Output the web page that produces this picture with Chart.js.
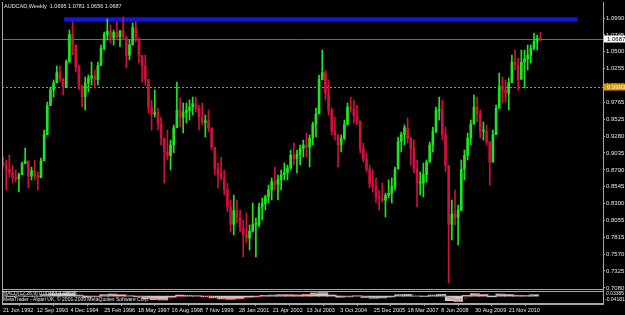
<!DOCTYPE html>
<html>
<head>
<meta charset="utf-8">
<script src="https://cdn.jsdelivr.net/npm/chart.js"></script>
<style>
  html, body { margin: 0; padding: 0; background: #000; }
  #wrap { width: 625px; height: 315px; }
</style>
</head>
<body>
<div id="wrap"><canvas id="mtChart"></canvas></div>
<script>
  // AUDCAD weekly, one candle per 6 weeks starting 21 Jun 1992
  const candleWeeks = 6;
  const firstOpen = 0.890;

  const lows = [0.8831,0.8498,0.8686,0.8599,0.8614,0.8469,0.8744,0.8889,0.8527,0.8643,
    0.8643,0.8498,0.8672,0.9034,0.9440,0.9759,0.9845,1.0063,1.0063,0.9874,
    1.0034,1.0382,1.0454,1.0208,0.9947,0.9701,0.9657,0.9918,1.0019,0.9976,
    1.0019,1.0309,1.0526,1.0671,1.0628,1.0599,1.0671,1.0570,1.0671,1.0266,
    1.0382,1.0599,1.0642,1.0338,1.0063,1.0019,0.9614,0.9367,0.9556,0.9367,
    0.9150,0.8599,0.8933,0.8788,0.9034,0.9512,0.9411,0.9324,0.9469,0.9512,
    0.9585,0.9628,0.9367,0.9440,0.9266,0.9338,0.9077,0.8715,0.8527,0.8643,
    0.8425,0.8179,0.7889,0.7846,0.8020,0.7889,0.7527,0.7730,0.7628,0.7889,
    0.7527,0.7962,0.8063,0.8208,0.8310,0.8353,0.8498,0.8353,0.8498,0.8643,
    0.8643,0.8788,0.8860,0.8744,0.8860,0.8976,0.8976,0.8831,0.9150,0.9266,
    0.9657,1.0092,0.9802,0.9585,0.9295,0.9222,0.8831,0.9049,0.9222,0.9440,
    0.9628,0.9469,0.9440,0.9034,0.8904,0.8759,0.8527,0.8469,0.8310,0.8208,
    0.8324,0.8107,0.8382,0.8310,0.8498,0.8860,0.9049,0.9150,0.9179,0.8860,
    0.8744,0.8252,0.8425,0.8396,0.8614,0.8904,0.9049,0.9324,0.9512,0.9222,
    0.8759,0.7150,0.7773,0.7991,0.7701,0.8469,0.8643,0.8933,0.9150,0.9512,
    0.9483,0.9251,0.9222,0.9150,0.8570,0.8933,0.9440,0.9845,0.9759,0.9773,
    0.9657,1.0135,1.0237,0.9947,1.0237,0.9976,1.0237,1.0338,1.0526,1.0526,
    1.0656];

  const highs = [0.8976,0.8933,0.9005,0.8860,0.8788,0.8744,0.8904,0.9106,0.8860,0.8831,
    0.8933,0.8759,0.8962,0.9367,0.9773,0.9990,1.0092,1.0295,1.0295,1.0121,
    1.0382,1.0816,1.0932,1.0526,1.0309,1.0019,1.0135,1.0164,1.0353,1.0237,
    1.0353,1.0599,1.0787,1.0976,1.0889,1.0816,1.0932,1.0816,1.1005,1.0700,
    1.0671,1.0918,1.0932,1.0671,1.0411,1.0454,1.0019,0.9802,0.9947,0.9686,
    0.9556,0.9222,0.9367,0.9222,0.9440,1.0063,0.9831,0.9759,0.9759,0.9802,
    0.9845,0.9845,0.9730,0.9759,0.9585,0.9657,0.9367,0.9077,0.8889,0.8976,
    0.8788,0.8599,0.8353,0.8425,0.8353,0.8208,0.8063,0.8165,0.7991,0.8310,
    0.8092,0.8310,0.8382,0.8425,0.8570,0.8672,0.8831,0.8715,0.8788,0.8889,
    0.8860,0.9077,0.9179,0.9077,0.9150,0.9222,0.9324,0.9295,0.9483,0.9686,
    1.0164,1.0526,1.0237,1.0092,0.9686,0.9556,0.9266,0.9295,0.9512,0.9759,
    0.9845,0.9802,0.9730,0.9440,0.9179,0.9034,0.8860,0.8788,0.8672,0.8498,
    0.8599,0.8454,0.8643,0.8672,0.8831,0.9266,0.9338,0.9440,0.9541,0.9266,
    0.9222,0.8933,0.8759,0.8889,0.8933,0.9193,0.9411,0.9701,0.9845,0.9802,
    0.9411,0.8860,0.8353,0.8498,0.8281,0.8933,0.9077,0.9324,0.9512,0.9874,
    0.9845,0.9657,0.9483,0.9440,0.9150,0.9367,0.9730,1.0193,1.0135,1.0092,
    1.0121,1.0454,1.0526,1.0411,1.0526,1.0526,1.0599,1.0599,1.0773,1.0744,
    1.0781];

  const closes = [0.885,0.880,0.875,0.868,0.866,0.872,0.888,0.892,0.870,0.878,
    0.870,0.868,0.892,0.930,0.972,0.995,1.005,1.020,1.010,0.998,
    1.035,1.075,1.060,1.028,1.000,0.985,1.005,1.012,1.015,1.010,
    1.030,1.055,1.075,1.080,1.070,1.078,1.072,1.080,1.072,1.045,
    1.060,1.085,1.070,1.045,1.030,1.010,0.970,0.960,0.962,0.945,
    0.925,0.905,0.900,0.915,0.940,0.965,0.955,0.962,0.965,0.970,
    0.975,0.968,0.955,0.948,0.950,0.940,0.912,0.880,0.875,0.868,
    0.850,0.825,0.800,0.820,0.810,0.795,0.785,0.780,0.790,0.800,
    0.800,0.825,0.830,0.840,0.850,0.862,0.858,0.865,0.872,0.875,
    0.882,0.900,0.895,0.902,0.910,0.915,0.912,0.925,0.945,0.960,
    1.010,1.020,0.990,0.965,0.935,0.930,0.915,0.925,0.945,0.970,
    0.968,0.958,0.950,0.910,0.895,0.880,0.858,0.855,0.840,0.838,
    0.835,0.842,0.845,0.855,0.880,0.920,0.930,0.940,0.925,0.910,
    0.880,0.860,0.860,0.872,0.890,0.915,0.935,0.965,0.965,0.930,
    0.885,0.800,0.815,0.810,0.820,0.880,0.900,0.925,0.945,0.970,
    0.960,0.935,0.935,0.920,0.890,0.930,0.968,1.000,0.995,0.990,
    1.005,1.035,1.030,1.010,1.035,1.040,1.045,1.055,1.065,1.0695,
    1.0687];

  // MACD(12,26,9) read every 16 weeks
  const macdWeeks = 16;
  const macdHist = [0.002,-0.003,0.001,-0.002,-0.001,0.008,0.014,0.016,0.018,0.004,
    -0.006,-0.004,0.008,0.012,0.008,0.002,-0.004,-0.014,-0.020,-0.022,
    -0.006,0.006,0.004,0.002,-0.004,-0.010,-0.016,-0.018,-0.014,-0.006,
    -0.004,0.004,0.006,0.008,0.008,0.006,0.010,0.018,0.020,0.006,
    -0.006,-0.004,0.002,-0.008,-0.012,-0.010,-0.004,0.008,0.010,0.000,
    -0.002,0.006,0.010,-0.026,-0.030,0.004,0.014,0.010,-0.004,0.012,
    0.010,0.004,0.004,0.008];
  const macdSignal = [0.001,0.000,-0.001,0.000,-0.001,0.003,0.009,0.013,0.015,0.010,
    0.002,-0.003,0.002,0.008,0.009,0.005,-0.001,-0.008,-0.015,-0.019,
    -0.012,-0.002,0.003,0.003,-0.001,-0.006,-0.012,-0.016,-0.015,-0.010,
    -0.005,0.000,0.004,0.006,0.007,0.007,0.008,0.013,0.017,0.012,
    0.002,-0.003,-0.001,-0.004,-0.009,-0.010,-0.007,0.002,0.007,0.004,
    0.001,0.003,0.007,-0.010,-0.022,-0.008,0.006,0.009,0.003,0.007,
    0.009,0.006,0.004,0.006];

  const dateLabels = ["21 Jun 1992","12 Sep 1993","4 Dec 1994","25 Feb 1996","18 May 1997",
    "16 Aug 1998","7 Nov 1999","28 Jan 2001","21 Apr 2002","13 Jul 2003","3 Oct 2004",
    "25 Dec 2005","18 Mar 2007","8 Jun 2008","30 Aug 2009","21 Nov 2010"];
  const labelWeeks = [0,64,128,192,256,320,384,448,512,576,640,704,768,832,896,960];
  const priceTicks = [1.0990,1.0745,1.0500,1.0255,1.0010,0.9765,0.9525,0.9280,0.9035,
    0.8790,0.8545,0.8300,0.8055,0.7815,0.7570,0.7325,0.7080];

  const levelLine = 0.9993;
  const bidPrice = 1.0687;
  const boxWeeks = [116, 1091];
  const boxPrices = [1.1000, 1.0937];

  const UP = '#1ee61e', DOWN = '#d0103c', FRAME = '#a8a8a8', TXT = '#e6e6e6';
  const SMALL = "'Liberation Sans Narrow', 'Liberation Sans', sans-serif";

  const opens = closes.map((c, i) => (i === 0 ? firstOpen : closes[i - 1]));
  const candleColors = closes.map((c, i) => (c >= opens[i] ? UP : DOWN));

  Chart.defaults.font.family = "'Liberation Sans', 'DejaVu Sans', sans-serif";
  Chart.defaults.font.size = 6;
  Chart.defaults.color = TXT;

  function noPad(scale) {
    scale.paddingTop = 0; scale.paddingBottom = 0;
    scale.paddingLeft = 0; scale.paddingRight = 0;
  }

  const overlay = {
    id: 'overlay',
    beforeDatasetsDraw(chart) {
      const { ctx, chartArea: a, scales: { x, y } } = chart;
      ctx.save();
      // blue rectangle object
      const bx1 = x.getPixelForValue(boxWeeks[0]), bx2 = x.getPixelForValue(boxWeeks[1]);
      const by1 = y.getPixelForValue(boxPrices[0]), by2 = y.getPixelForValue(boxPrices[1]);
      ctx.fillStyle = '#1414e8';
      ctx.fillRect(bx1, by1, bx2 - bx1, by2 - by1);
      // horizontal level (dotted orange)
      const ly = Math.round(y.getPixelForValue(levelLine)) + 0.5;
      ctx.strokeStyle = '#b8862e';
      ctx.lineWidth = 1;
      ctx.setLineDash([2, 2]);
      ctx.beginPath(); ctx.moveTo(a.left, ly); ctx.lineTo(a.right, ly); ctx.stroke();
      // bid line
      const py = Math.round(y.getPixelForValue(bidPrice)) + 0.5;
      ctx.strokeStyle = '#6c6c6c';
      ctx.setLineDash([]);
      ctx.beginPath(); ctx.moveTo(a.left, py); ctx.lineTo(a.right, py); ctx.stroke();
      ctx.restore();
    },
    afterDraw(chart) {
      const { ctx, chartArea: a, scales: { y, y2 } } = chart;
      ctx.save();
      // frame
      ctx.strokeStyle = FRAME;
      ctx.lineWidth = 1;
      ctx.beginPath();
      ctx.moveTo(a.left + 0.5, a.top); ctx.lineTo(a.left + 0.5, a.bottom);
      ctx.moveTo(a.left, Math.round(y.bottom) - 0.5); ctx.lineTo(a.right, Math.round(y.bottom) - 0.5);
      ctx.moveTo(a.left, Math.round(y.bottom) + 1.5); ctx.lineTo(a.right, Math.round(y.bottom) + 1.5);
      ctx.moveTo(a.left, Math.round(a.bottom) - 0.5); ctx.lineTo(a.right, Math.round(a.bottom) - 0.5);
      ctx.stroke();

      ctx.textBaseline = 'middle';
      ctx.fillStyle = TXT;
      ctx.font = "5.5px 'Liberation Sans', sans-serif";
      ctx.fillText('AUDCAD,Weekly  1.0695 1.0781 1.0656 1.0687', 4, 6);
      ctx.font = "5px 'Liberation Sans', sans-serif";
      ctx.fillText('MACD(12,26,9) 0.00363 0.00625', 3, y2.top + 4);
      ctx.fillText('MetaTrader - Alpari UK, \u00a9 2001-2009 MetaQuotes Software Corp.', 3, y2.top + 9.5);
      ctx.font = "5px " + SMALL;
      ctx.fillText('0.03385', a.right + 3, y2.top + 4);
      ctx.fillText('-0.04181', a.right + 2, y2.top + 9.5);

      // price labels on the axis
      ctx.font = "6px 'Liberation Sans', sans-serif";
      const tag = (val, bg, fg) => {
        const ty = Math.round(y.getPixelForValue(val));
        ctx.fillStyle = bg;
        ctx.fillRect(a.right + 1, ty - 3.5, 24, 7);
        ctx.fillStyle = fg;
        ctx.fillText(val.toFixed(4), a.right + 4, ty);
      };
      tag(levelLine, '#d8960e', '#fff6d8');
      tag(bidPrice, '#ffffff', '#000000');
      ctx.restore();
    }
  };

  new Chart(document.getElementById('mtChart'), {
    type: 'bar',
    data: {
      datasets: [
        {
          label: 'wick',
          data: lows.map((lo, i) => ({ x: i * candleWeeks, y: [lo, highs[i]] })),
          backgroundColor: candleColors,
          barThickness: 1,
          grouped: false,
          yAxisID: 'y',
          order: 2
        },
        {
          label: 'body',
          data: opens.map((o, i) => ({ x: i * candleWeeks, y: [o, closes[i]] })),
          backgroundColor: candleColors,
          barThickness: 2,
          minBarLength: 1,
          grouped: false,
          yAxisID: 'y',
          order: 1
        },
        {
          label: 'MACD',
          data: macdHist.map((v, j) => ({ x: j * macdWeeks, y: v })),
          backgroundColor: '#c8c8c8',
          barThickness: 9,
          grouped: false,
          yAxisID: 'y2',
          order: 3
        },
        {
          type: 'line',
          label: 'Signal',
          data: macdSignal.map((v, j) => ({ x: j * macdWeeks, y: v })),
          borderColor: '#ff2424',
          borderWidth: 1,
          borderDash: [1, 1],
          pointRadius: 0,
          tension: 0.3,
          yAxisID: 'y2',
          order: 0
        }
      ]
    },
    options: {
      responsive: true,
      maintainAspectRatio: false,
      animation: false,
      events: [],
      layout: { padding: { left: 2, top: 2, right: 0, bottom: 0 } },
      plugins: { legend: { display: false }, tooltip: { enabled: false } },
      scales: {
        x: {
          type: 'linear',
          offset: false,
          min: -2,
          max: 1139,
          position: 'bottom',
          afterBuildTicks: (scale) => { scale.ticks = labelWeeks.map((v) => ({ value: v })); },
          afterFit: (scale) => { scale.height = 11; noPad(scale); },
          grid: { drawOnChartArea: false, drawTicks: true, tickLength: 2, color: FRAME },
          border: { display: true, color: FRAME },
          ticks: {
            autoSkip: false, maxRotation: 0, align: 'start', padding: 1,
            color: TXT, font: { size: 5.5, family: SMALL },
            callback: (v, i) => dateLabels[i]
          }
        },
        y: {
          type: 'linear',
          position: 'right',
          stack: 'win',
          stackWeight: 288,
          min: 0.7049,
          max: 1.1222,
          afterBuildTicks: (scale) => { scale.ticks = priceTicks.map((v) => ({ value: v })); },
          afterFit: (scale) => { scale.width = 22; noPad(scale); },
          grid: { drawOnChartArea: false, drawTicks: true, tickLength: 2, color: FRAME },
          border: { display: true, color: FRAME },
          ticks: { autoSkip: false, padding: 1, color: TXT, font: { size: 6 }, callback: (v) => v.toFixed(4) }
        },
        y2: {
          type: 'linear',
          position: 'right',
          stack: 'win',
          stackWeight: 14,
          min: -0.045,
          max: 0.035,
          afterFit: (scale) => { scale.width = 22; noPad(scale); },
          grid: { display: false },
          border: { display: true, color: FRAME },
          ticks: { display: false }
        }
      }
    },
    plugins: [overlay]
  });
</script>
</body>
</html>
